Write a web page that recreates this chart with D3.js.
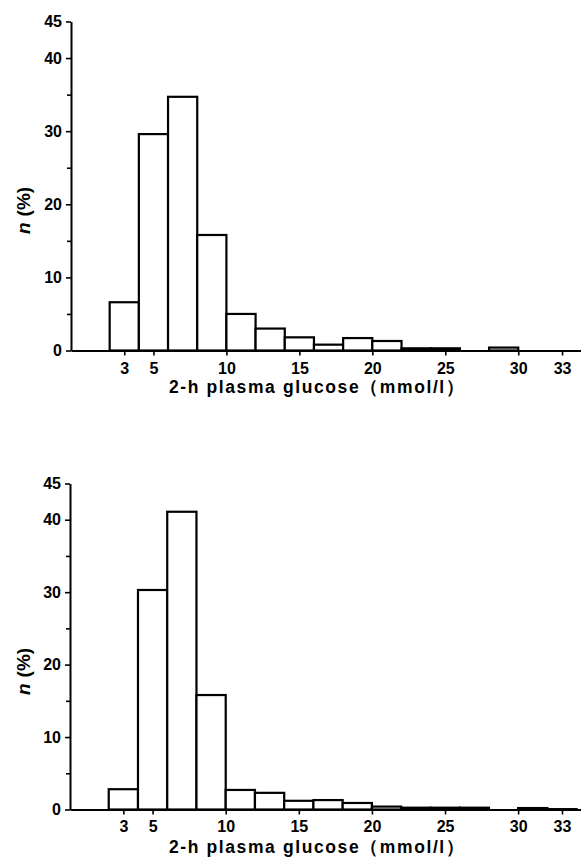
<!DOCTYPE html>
<html><head><meta charset="utf-8">
<script src="https://cdn.jsdelivr.net/npm/d3@7"></script>
<style>
html,body{margin:0;padding:0;background:#fff;}
svg{display:block;}
text{font-family:"Liberation Sans",Arial,Helvetica,sans-serif;font-weight:bold;fill:#000;}
</style></head>
<body>
<svg id="chart" width="581" height="858"></svg>
<script>
// bin edges (mmol/l), each bin 2 mmol/l wide
const binStarts = [2,4,6,8,10,12,14,16,18,20,22,24,26,28,30,32];
const binWidth = 2;
// percentage per bin, top panel
const topValues = [6.6, 29.6, 34.7, 15.8, 5.0, 3.0, 1.8, 0.8, 1.7, 1.3, 0.3, 0.3, 0, 0.4, 0, 0];
// percentage per bin, bottom panel
const bottomValues = [2.8, 30.3, 41.1, 15.8, 2.7, 2.3, 1.2, 1.3, 0.9, 0.4, 0.25, 0.25, 0.25, 0, 0.2, 0.05];
const xTicks = [3,5,10,15,20,25,30,33];
const yMajorTicks = [0,10,20,30,40,45];
const yMinorTicks = [5,15,25,35];
const xLabel = "2-h plasma glucose（mmol/l）";

const svg = d3.select("#chart");

function panel(values, cfg){
  const x = d3.scaleLinear().domain([-0.65, 34.3]).range([cfg.left, 581]);
  const y = d3.scaleLinear().domain([0,45]).range([cfg.base, cfg.top]);
  const g = svg.append("g");

  const data = binStarts.map((s,i)=>({x0:s, x1:s+binWidth, v:values[i]})).filter(d=>d.v>0);
  g.selectAll("rect").data(data).join("rect")
    .attr("x", d=>x(d.x0)).attr("width", d=>x(d.x1)-x(d.x0))
    .attr("y", d=>y(d.v)).attr("height", d=>y(0)-y(d.v))
    .attr("fill","#fff").attr("stroke","#000").attr("stroke-width",2.2);

  const xa = g.append("g").attr("transform",`translate(0,${cfg.base})`)
    .call(d3.axisBottom(x).tickValues(xTicks).tickSize(5).tickSizeOuter(0).tickPadding(cfg.xPad));
  const ya = g.append("g").attr("transform",`translate(${cfg.left},0)`)
    .call(d3.axisLeft(y).tickValues(yMajorTicks).tickSize(5).tickSizeOuter(0).tickPadding(4));
  const ym = g.append("g").attr("transform",`translate(${cfg.left},0)`)
    .call(d3.axisLeft(y).tickValues(yMinorTicks).tickSize(4).tickSizeOuter(0).tickFormat(""));
  ym.select(".domain").remove();
  [xa,ya,ym].forEach(a=>{
    a.selectAll(".domain").attr("stroke","#000").attr("stroke-width",2);
    a.selectAll(".tick line").attr("stroke","#000").attr("stroke-width",1.6);
    a.selectAll(".tick text").style("font-size","16px").style("font-family","Liberation Sans, Arial, sans-serif").style("font-weight","bold").attr("fill","#000");
  });

  g.append("text").attr("x",169).attr("y",cfg.xlabY)
    .style("font-size","17.5px").style("letter-spacing","1.6px")
    .text(xLabel);

  const yl = g.append("text")
    .attr("transform",`translate(30,${cfg.ylabBottom}) rotate(-90)`)
    .style("font-size","19px");
  yl.append("tspan").style("font-style","italic").text("n");
  yl.append("tspan").attr("dx",6).text("(%)");
}

panel(topValues, {left:71, base:350.5, top:21.5, xlabY:393, xPad:7, ylabBottom:234});
panel(bottomValues, {left:70, base:809.5, top:483.5, xlabY:853, xPad:6, ylabBottom:695});
</script>
</body></html>
